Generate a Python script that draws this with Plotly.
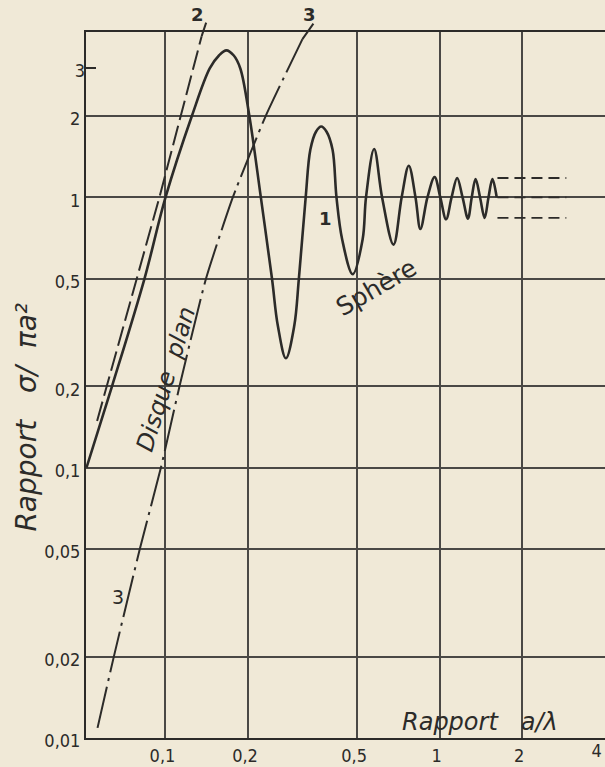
import math
import plotly.graph_objects as go

# Courbe 1 : sphère (rapport a/λ -> σ/πa²)
sphere_ratio = [0.0515, 0.0638, 0.0838, 0.100, 0.1248, 0.145, 0.1567, 0.1668, 0.1775,
                0.1875, 0.2023, 0.2228, 0.2447, 0.257, 0.275, 0.295, 0.3066, 0.3247,
                0.3376, 0.354, 0.370, 0.387, 0.407, 0.4206, 0.441, 0.482, 0.524,
                0.539, 0.577, 0.617, 0.679, 0.727, 0.772, 0.817, 0.851, 0.903,
                0.959, 1.006, 1.056, 1.106, 1.159, 1.213, 1.269, 1.31, 1.353,
                1.405, 1.46, 1.508, 1.559, 1.616]
sphere_sigma = [0.1, 0.2, 0.5, 1.0, 2.0, 3.0, 3.35, 3.5, 3.35,
                3.0, 2.0, 1.0, 0.5, 0.335, 0.254, 0.335, 0.5, 1.0,
                1.5, 1.75, 1.83, 1.75, 1.5, 1.0, 0.7, 0.52, 0.7,
                1.0, 1.51, 1.0, 0.669, 1.0, 1.31, 1.0, 0.764, 1.0,
                1.19, 1.0, 0.83, 1.0, 1.18, 1.0, 0.835, 1.0, 1.17,
                1.0, 0.84, 1.0, 1.17, 1.0]

# Courbe 2 : asymptote de Rayleigh
rayleigh_ratio = [0.0563, 0.095, 0.1355]
rayleigh_sigma = [0.149, 1.0, 3.95]

# Courbe 3 : disque plan
disc_ratio = [0.0565, 0.0648, 0.0806, 0.0962, 0.1125, 0.1405, 0.176, 0.232, 0.316]
disc_sigma = [0.0109, 0.02, 0.05, 0.1, 0.2, 0.5, 1.0, 2.0, 3.85]

# Bande limite optique (tirets à droite)
band_ratio = [1.626, 2.9]
band_levels = [1.18, 1.0, 0.84]

# Graduations
x_ticks = [0.1, 0.2, 0.5, 1, 2, 4]
x_labels = ["0,1", "0,2", "0,5", "1", "2", "4"]
x_grid = [0.1, 0.2, 0.5, 1, 2]
y_ticks = [0.01, 0.02, 0.05, 0.1, 0.2, 0.5, 1, 2, 3]
y_labels = ["0,01", "0,02", "0,05", "0,1", "0,2", "0,5", "1", "2", "3"]
y_grid = [0.01, 0.02, 0.05, 0.1, 0.2, 0.5, 1, 2]

X_RANGE = [-1.29, 0.6035]
Y_RANGE = [-2.0, 0.612]

PAPER = "#f0e9d7"
INK = "#2c2b29"
GRID = "#4a4845"
TICK_FONT = dict(family="Liberation Sans Narrow, DejaVu Sans Condensed, Liberation Sans",
                 size=18, color=INK)
TEXT_FONT = "DejaVu Sans, Liberation Sans"

fig = go.Figure()

fig.add_trace(go.Scatter(
    x=sphere_ratio, y=sphere_sigma, mode="lines",
    line=dict(color=INK, width=2.6, shape="spline", smoothing=1.0),
    hoverinfo="skip"))

fig.add_trace(go.Scatter(
    x=rayleigh_ratio, y=rayleigh_sigma, mode="lines",
    line=dict(color=INK, width=2.0, dash="20px,6px"),
    hoverinfo="skip"))

fig.add_trace(go.Scatter(
    x=disc_ratio, y=disc_sigma, mode="lines",
    line=dict(color=INK, width=2.0, dash="42px,6px,3px,6px", shape="spline", smoothing=0.5),
    hoverinfo="skip"))

# tirets horizontaux de la bande
bx, by = [], []
for lvl in band_levels:
    bx += [band_ratio[0], band_ratio[1], None]
    by += [lvl, lvl, None]
fig.add_trace(go.Scatter(
    x=bx, y=by, mode="lines", xaxis="x2", yaxis="y2",
    line=dict(color=INK, width=1.8, dash="11px,6px"),
    hoverinfo="skip"))

grid_ticks = [(v, l) for v, l in zip(x_ticks, x_labels) if v in x_grid]
edge_ticks = [(v, l) for v, l in zip(x_ticks, x_labels) if v not in x_grid]
ygrid_ticks = [(v, l) for v, l in zip(y_ticks, y_labels) if v in y_grid]
yedge_ticks = [(v, l) for v, l in zip(y_ticks, y_labels) if v not in y_grid]

fig.update_layout(
    template="none",
    width=605, height=767,
    margin=dict(l=86, r=0, t=32, b=29, autoexpand=False),
    paper_bgcolor=PAPER, plot_bgcolor=PAPER,
    showlegend=False,
    xaxis=dict(
        type="log", range=X_RANGE, automargin=False,
        tickmode="array", tickvals=[v for v, _ in grid_ticks], ticktext=[l for _, l in grid_ticks],
        showgrid=True, gridcolor=GRID, gridwidth=1.5, zeroline=False,
        showline=True, linecolor=INK, linewidth=2, mirror=True,
        ticks="", tickfont=TICK_FONT, ticklabelshift=-3, ticklabelstandoff=0),
    xaxis2=dict(
        type="log", overlaying="x", matches="x", anchor="y2", side="bottom", automargin=False,
        tickmode="array", tickvals=[v for v, _ in edge_ticks], ticktext=[l for _, l in edge_ticks],
        showgrid=False, zeroline=False, showline=False,
        ticks="", tickfont=TICK_FONT, ticklabelshift=-8, ticklabelstandoff=0,
        ticklabeloverflow="allow"),
    yaxis=dict(
        type="log", range=Y_RANGE, automargin=False,
        tickmode="array", tickvals=[v for v, _ in ygrid_ticks], ticktext=[l for _, l in ygrid_ticks],
        showgrid=True, gridcolor=GRID, gridwidth=1.5, zeroline=False,
        showline=True, linecolor=INK, linewidth=2,
        ticks="", tickfont=TICK_FONT, ticklabelshift=3),
    yaxis2=dict(
        type="log", overlaying="y", matches="y", anchor="x2", side="left", automargin=False,
        tickmode="array", tickvals=[v for v, _ in yedge_ticks], ticktext=[l for _, l in yedge_ticks],
        showgrid=False, zeroline=False, showline=False,
        ticks="inside", ticklen=10, tickwidth=1.6, tickcolor=INK,
        tickfont=TICK_FONT, ticklabelshift=2),
)


def label(text, x, y, size, angle=0):
    return dict(text=text, xref="paper", yref="paper", x=x, y=y,
                xanchor="center", yanchor="middle", textangle=angle, showarrow=False,
                font=dict(family=TEXT_FONT, size=size, color=INK))


ann = [
    # titres des axes
    label("<i>Rapport   σ/  πa²</i>", -0.114, 0.455, 28, -90),
    label("<i>Rapport   a/λ</i>", 0.759, 0.0227, 24),
    # étiquettes des courbes
    label("Sphère", 0.5588, 0.6388, 25, -30),
    label("<i>Disque  plan</i>", 0.1541, 0.5085, 24, -73),
    label("<b>1</b>", 0.4624, 0.7365, 18),
    label("3", 0.0622, 0.2001, 19),
    label("<b>2</b>", 0.2148, 1.0241, 18),
    label("<b>3</b>", 0.4306, 1.0241, 18),
]
# traits de rappel vers l'extrémité des courbes 2 et 3
ann.append(dict(text="", x=math.log10(rayleigh_ratio[-1]), y=math.log10(rayleigh_sigma[-1]),
                xref="x", yref="y", showarrow=True, arrowhead=0, arrowwidth=2,
                arrowcolor=INK, ax=5, ay=-15, standoff=0))
ann.append(dict(text="", x=math.log10(disc_ratio[-1]), y=math.log10(disc_sigma[-1]),
                xref="x", yref="y", showarrow=True, arrowhead=0, arrowwidth=2,
                arrowcolor=INK, ax=12, ay=-17, standoff=0))
fig.update_layout(annotations=ann)

fig.write_html("out.html")
